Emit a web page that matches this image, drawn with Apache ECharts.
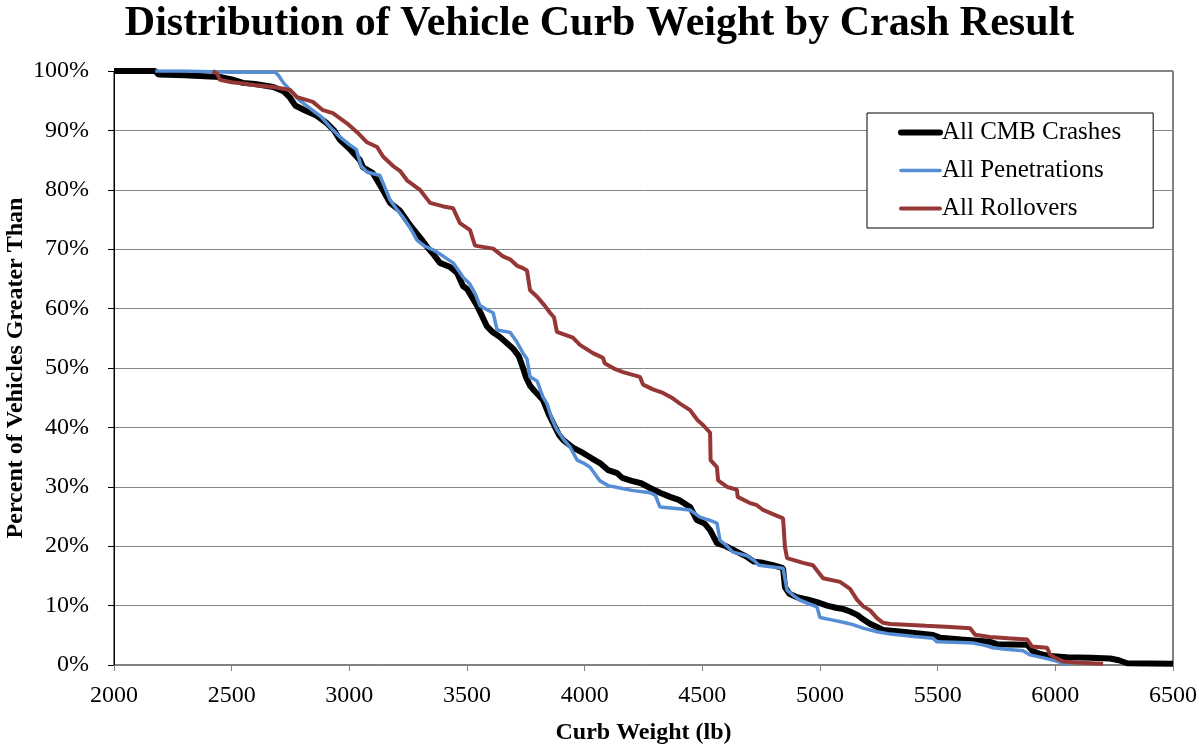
<!DOCTYPE html>
<html>
<head>
<meta charset="utf-8">
<script src="https://cdn.jsdelivr.net/npm/echarts@6/dist/echarts.min.js"></script>
<style>html,body{margin:0;padding:0;background:#fff;}#c{width:1199px;height:748px;}</style>
</head>
<body>
<div id="c"></div>
<script>
const titleText = 'Distribution of Vehicle Curb Weight by Crash Result';
const xName = 'Curb Weight (lb)';
const yName = 'Percent of Vehicles Greater Than';
const seriesNames = ['All CMB Crashes', 'All Penetrations', 'All Rollovers'];

// [curb weight (lb), percent greater than]
const allCrashes = [[2000,100],[2175,100],[2190,99.4],[2300,99.3],[2450,99],[2500,98.6],[2548,98],[2600,97.8],[2677,97.3],[2720,96.6],[2748,95.5],[2770,94.2],[2810,93.4],[2860,92.5],[2905,91.2],[2935,90],[2960,88.4],[3003,86.8],[3045,85],[3058,83.8],[3100,82.8],[3118,81.6],[3145,79.8],[3173,77.8],[3215,76.5],[3250,74.5],[3271,73.4],[3300,72],[3330,70.4],[3360,69],[3385,67.7],[3428,67],[3458,66],[3483,63.8],[3500,63.3],[3543,60.5],[3585,57],[3610,56],[3640,55.2],[3695,53.3],[3720,52],[3738,50],[3750,48.5],[3768,47],[3790,46],[3823,44.6],[3850,42],[3866,40.7],[3890,38.8],[3908,37.9],[3950,36.6],[3993,35.7],[4030,34.8],[4065,34],[4100,32.8],[4138,32.3],[4160,31.5],[4200,31],[4240,30.6],[4278,29.8],[4320,29],[4363,28.3],[4400,27.8],[4448,26.6],[4477,24.4],[4510,23.8],[4533,22.7],[4562,20.5],[4600,20],[4630,19.4],[4660,18.8],[4690,18.2],[4720,17.4],[4758,17.2],[4800,16.8],[4843,16.3],[4851,13.1],[4870,12],[4902,11.4],[4950,11],[4987,10.6],[5030,10],[5072,9.6],[5100,9.4],[5128,9],[5160,8.4],[5183,7.7],[5210,7],[5242,6.4],[5268,5.9],[5350,5.6],[5480,5.05],[5510,4.6],[5600,4.3],[5722,3.9],[5752,3.5],[5880,3.4],[5905,2.3],[5940,1.8],[5977,1.5],[6050,1.3],[6150,1.2],[6233,1.1],[6270,0.8],[6305,0.3],[6500,0.2]];

const allPenetrations = [[2175,100],[2300,100],[2500,99.8],[2685,99.8],[2700,99.2],[2720,98],[2760,96.3],[2790,95],[2840,93.5],[2880,92.3],[2920,90.5],[2960,88.9],[3000,87.6],[3030,86.8],[3050,84],[3075,83],[3130,82.4],[3150,80.5],[3173,78.3],[3200,76.8],[3228,75.4],[3260,73.5],[3288,71.5],[3320,70.5],[3356,69.9],[3400,68.8],[3441,67.7],[3483,65.3],[3513,64.1],[3535,62.5],[3555,60.5],[3585,59.8],[3611,59.3],[3628,56.4],[3683,56],[3710,54.5],[3738,52.5],[3755,51.5],[3768,48.5],[3798,47.8],[3823,45.1],[3840,44],[3860,41.5],[3882,39.6],[3910,38],[3938,36.7],[3968,34.5],[3995,34],[4023,33.3],[4050,31.8],[4065,31],[4100,30.2],[4150,29.8],[4200,29.4],[4278,29],[4300,28.6],[4320,26.6],[4400,26.3],[4448,26.1],[4490,24.9],[4530,24.4],[4562,23.9],[4575,21],[4600,20.2],[4630,19],[4690,18.4],[4720,17.6],[4740,16.8],[4800,16.5],[4843,16.3],[4860,12.6],[4890,11.6],[4915,10.9],[4987,9.8],[5000,8],[5050,7.6],[5098,7.2],[5140,6.8],[5183,6.2],[5242,5.6],[5300,5.2],[5400,4.8],[5480,4.5],[5497,3.9],[5600,3.8],[5650,3.7],[5700,3.3],[5735,2.9],[5800,2.6],[5863,2.4],[5893,1.7],[5950,1.2],[6000,0.7],[6033,0.3],[6060,0.2]];

const allRollovers = [[2420,100],[2440,99.5],[2450,98.5],[2500,98.1],[2548,97.9],[2600,97.6],[2677,97.3],[2748,96.8],[2778,95.6],[2845,94.8],[2888,93.4],[2930,92.9],[2990,91.2],[3033,89.7],[3075,88],[3118,87.2],[3143,85.6],[3186,84],[3215,83.2],[3245,81.6],[3300,80],[3343,77.8],[3400,77.2],[3441,76.9],[3470,74.4],[3513,73.2],[3534,70.6],[3611,70.1],[3653,68.8],[3683,68.3],[3713,67.2],[3738,66.8],[3755,66.4],[3768,63.1],[3798,62],[3830,60.5],[3853,59.3],[3870,58.5],[3882,56.1],[3950,55.1],[3980,53.9],[4035,52.5],[4078,51.7],[4085,50.8],[4130,49.8],[4163,49.3],[4235,48.5],[4248,47.2],[4290,46.4],[4333,45.8],[4370,45],[4405,44],[4448,42.9],[4480,41.2],[4503,40.4],[4533,39.1],[4535,34.5],[4562,33.3],[4567,31.1],[4605,30],[4647,29.5],[4650,28.3],[4700,27.3],[4732,26.9],[4758,26.1],[4800,25.4],[4843,24.7],[4851,19.9],[4860,18],[4928,17.2],[4970,16.8],[5013,14.6],[5085,14],[5128,12.8],[5157,11],[5183,9.9],[5213,9.2],[5242,7.9],[5268,7.1],[5300,6.9],[5450,6.6],[5553,6.4],[5638,6.2],[5659,5.1],[5722,4.7],[5800,4.5],[5880,4.3],[5901,3.1],[5965,2.9],[5977,1.8],[6000,1.2],[6033,0.6],[6100,0.4],[6203,0.2]];

const seriesColors = ['#000000', '#558ED5', '#953735'];
const seriesWidths = [6, 3.5, 4];
const seriesData = [allCrashes, allPenetrations, allRollovers];

const FONT = '"Liberation Serif", "Times New Roman", serif';
const chart = echarts.init(document.getElementById('c'), null, {renderer: 'canvas'});
chart.setOption({
  animation: false,
  backgroundColor: '#fff',
  title: {
    text: titleText, left: 'center', top: 3, padding: 0,
    textStyle: {fontFamily: FONT, fontSize: 42, fontWeight: 'bold', color: '#000'}
  },
  legend: {
    orient: 'vertical', left: 867, top: 113,
    padding: [7, 32, 7, 31], itemGap: 13, itemWidth: 39, itemHeight: 14,
    borderColor: '#000', borderWidth: 1, backgroundColor: '#fff',
    itemStyle: {color: 'rgba(0,0,0,0)', borderColor: 'rgba(0,0,0,0)', borderWidth: 0, opacity: 0},
    textStyle: {fontFamily: FONT, fontSize: 25, color: '#000', padding: [0,0,0,-3]},
    data: seriesNames.map(function (n, i) {
      return {name: n, lineStyle: {width: seriesWidths[i], cap: 'round', color: seriesColors[i]}};
    })
  },
  grid: {left: 114, right: 26, top: 71, bottom: 83, show: true, borderColor: '#000', borderWidth: 1,
         containLabel: false, outerBoundsMode: 'none'},
  xAxis: {
    type: 'value', min: 2000, max: 6500, interval: 500,
    name: xName, nameLocation: 'middle', nameGap: 56, nameMoveOverlap: false,
    nameTextStyle: {fontFamily: FONT, fontSize: 24, fontWeight: 'bold', color: '#000'},
    axisLine: {show: true, lineStyle: {color: '#868686', width: 1}},
    axisTick: {show: true, inside: false, length: 6, lineStyle: {color: '#868686'}},
    axisLabel: {fontFamily: FONT, fontSize: 24, color: '#000', margin: 19, formatter: function (v) { return String(v); }},
    splitLine: {show: false}
  },
  yAxis: {
    type: 'value', min: 0, max: 100, interval: 10,
    name: yName, nameLocation: 'middle', nameGap: 86, nameRotate: 90, nameMoveOverlap: false,
    nameTextStyle: {fontFamily: FONT, fontSize: 24, fontWeight: 'bold', color: '#000'},
    axisLine: {show: true, lineStyle: {color: '#000', width: 1}},
    axisTick: {show: true, inside: false, length: 6, lineStyle: {color: '#000'}},
    axisLabel: {fontFamily: FONT, fontSize: 24, color: '#000', margin: 25, formatter: '{value}%'},
    splitLine: {show: true, lineStyle: {color: '#868686', width: 1}}
  },
  series: seriesNames.map(function (n, i) {
    return {name: n, type: 'line', data: seriesData[i], showSymbol: false, symbol: 'none',
      lineStyle: {color: seriesColors[i], width: seriesWidths[i]}, itemStyle: {color: seriesColors[i]}, z: 2 + i};
  })
});
</script>
</body>
</html>
